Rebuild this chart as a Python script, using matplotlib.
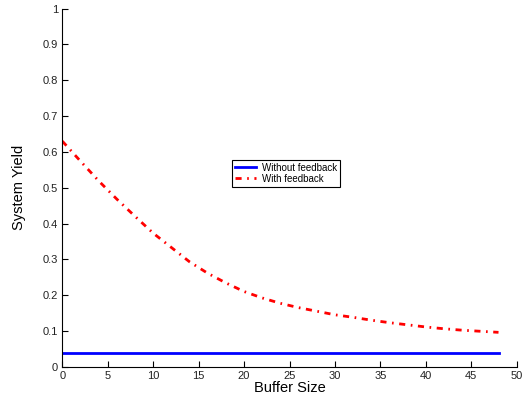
import matplotlib
matplotlib.use('Agg')
from matplotlib import pyplot as plt

plt.rcParams['font.family'] = ['Liberation Sans', 'DejaVu Sans']

buffer_size = [0, 2, 4, 6, 8, 10, 12, 14, 16, 18, 20, 22, 24,
               26, 28, 30, 32, 34, 36, 38, 40, 42, 44, 46, 48]
with_feedback = [0.630, 0.574, 0.519, 0.468, 0.420, 0.373, 0.333, 0.293, 0.261,
                 0.234, 0.210, 0.192, 0.177, 0.165, 0.155, 0.145, 0.138, 0.130,
                 0.123, 0.117, 0.111, 0.106, 0.102, 0.099, 0.096]
without_feedback = [0.037] * len(buffer_size)

fig = plt.figure(figsize=(5.22, 4.04), dpi=100)
ax = fig.add_axes([0.1194, 0.0923, 0.8704, 0.8862])

ax.plot(buffer_size, without_feedback, color='#0000ff', linewidth=2, label='Without feedback')
ax.plot(buffer_size, with_feedback, color='#ff0000', linewidth=2, linestyle='-.',
        dashes=(2.2, 2, 0.6, 2), label='With feedback')

ax.set_xlim(0, 50)
ax.set_ylim(0, 1)
ax.set_xticks(range(0, 51, 5))
ax.set_yticks([i / 10 for i in range(11)])
ax.set_yticklabels(['0', '0.1', '0.2', '0.3', '0.4', '0.5', '0.6', '0.7', '0.8', '0.9', '1'])
ax.tick_params(direction='in', length=4, labelsize=8, width=0.8, pad=3,
               labelcolor='#222222')
ax.spines['top'].set_visible(False)
ax.spines['right'].set_visible(False)

ax.set_xlabel('Buffer Size', fontsize=10.5, labelpad=0)
ax.set_ylabel('System Yield', fontsize=10.5, labelpad=12)

leg = ax.legend(loc='center', bbox_to_anchor=(0.492, 0.54), fontsize=7,
                frameon=True, fancybox=False, edgecolor='black', framealpha=1,
                handlelength=2.2, borderpad=0.3, labelspacing=0.1, handletextpad=0.6)
leg.get_frame().set_linewidth(0.8)

fig.savefig('out.png', dpi=100)
